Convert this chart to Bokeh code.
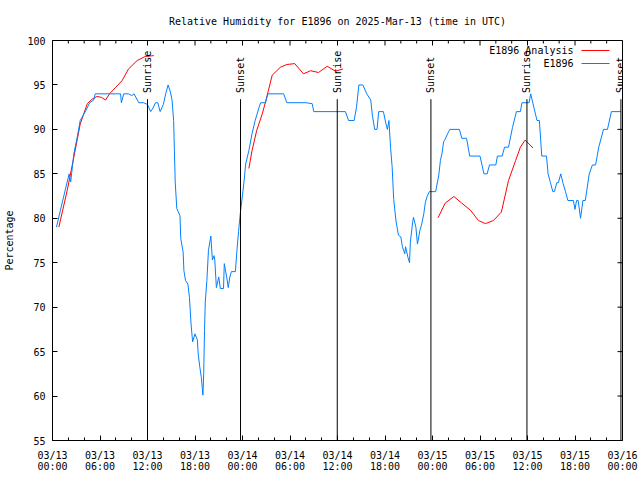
import math
from bokeh.plotting import figure
from bokeh.models import FixedTicker, Label, BoxAnnotation, Range1d, ColumnDataSource
from bokeh.embed import file_html
from bokeh.resources import INLINE
from bokeh.core.properties import value

FONT = "DejaVu Sans Mono"
NAN = float("nan")

# ---- data (hours since 2025-03-13 00:00 UTC, relative humidity %) ----
obs_hours = [0.5, 1.0, 1.4, 2.1, 2.3, 2.7, 3.1, 3.5, 4.2, 4.7, 5.2, 5.4, 6.0, 7.0, 8.0, 8.6, 8.7, 9.0,
             9.6, 10.0, 10.3, 10.9, 11.5, 12.0, 12.4, 12.7, 13.0, 13.3, 13.6, 14.0, 14.3, 14.6, 14.9,
             15.1, 15.3, 15.4, 15.5, 15.7, 16.1, 16.2, 16.5, 16.6, 16.8, 17.1, 17.3, 17.5, 17.7, 18.0,
             18.3, 18.4, 18.6, 18.8, 19.0, 19.1, 19.2, 19.3, 19.5, 19.7, 20.0, 20.2, 20.4, 20.5, 20.7,
             21.0, 21.2, 21.6, 21.7, 22.0, 22.2, 22.4, 22.6, 23.1, 23.3, 23.5, 23.75, 24.0, 24.2, 24.4,
             24.8, 25.2, 25.6, 26.1, 26.3, 26.9, 27.2, 29.2, 29.6, 32.0, 32.8, 33.0, 37.0, 37.4, 38.1,
             38.4, 38.7, 39.2, 39.7, 40.2, 40.4, 40.7, 41.0, 41.2, 41.8, 42.1, 42.3, 42.5, 42.7, 42.9,
             43.1, 43.4, 43.7, 44.0, 44.2, 44.5, 44.6, 44.9, 45.1, 45.2, 45.5, 45.6, 45.9, 46.1, 46.4,
             46.6, 46.9, 47.1, 47.3, 47.6, 48.4, 48.8, 49.0, 49.2, 49.4, 49.6, 49.9, 50.2, 51.4, 51.7,
             52.3, 52.7, 54.0, 54.5, 54.9, 55.2, 56.0, 56.2, 56.8, 57.1, 57.6, 58.1, 58.6, 59.1, 59.3,
             60.2, 60.4, 60.8, 61.2, 61.5, 61.8, 62.4, 62.6, 62.9, 63.2, 63.4, 63.7, 63.9, 64.2, 64.5,
             64.8, 65.1, 65.8, 66.0, 66.2, 66.4, 66.7, 67.0, 67.3, 67.8, 68.2, 68.6, 69.0, 69.6, 70.1,
             70.6, 71.8]
obs_rh = [79.0, 80.9, 82.4, 85.0, 84.1, 87.3, 89.0, 91.0, 92.1, 93.0, 93.3, 94.0, 94.0, 94.0, 94.0, 94.0, 93.0, 94.0,
          94.0, 93.8, 94.0, 93.0, 93.0, 92.8, 92.0, 92.4, 93.0, 93.0, 92.0, 92.8, 94.0, 95.0, 94.2,
          93.3, 91.0, 87.6, 84.1, 81.1, 80.3, 77.7, 76.2, 74.1, 73.0, 72.6, 71.1, 68.1, 66.1, 67.0,
          66.3, 64.8, 63.3, 62.1, 60.1, 62.5, 67.4, 70.6, 73.0, 76.4, 78.0, 75.3, 75.8, 75.3, 72.2,
          73.4, 72.1, 72.1, 74.9, 73.4, 72.2, 73.4, 74.0, 74.0, 76.4, 78.5, 80.8, 82.6, 84.2, 86.1,
          87.6, 89.5, 91.0, 92.5, 93.0, 93.0, 94.0, 94.0, 93.0, 93.0, 92.9, 92.0, 92.0, 91.0, 91.0,
          92.5, 95.0, 95.0, 94.0, 93.3, 91.6, 90.0, 90.0, 92.0, 92.0, 90.7, 90.0, 91.0, 88.0, 85.8,
          82.1, 79.6, 78.1, 77.9, 76.8, 76.0, 76.8, 75.6, 75.0, 77.3, 79.6, 80.1, 79.0, 77.1, 78.6,
          79.2, 80.5, 81.8, 82.4, 83.0, 83.0, 84.9, 86.5, 87.3, 88.6, 88.9, 89.5, 90.0, 90.0, 89.0,
          89.0, 87.0, 87.0, 85.0, 85.0, 86.0, 86.0, 87.0, 87.0, 88.0, 88.0, 90.2, 92.0, 92.0, 93.0,
          93.0, 94.0, 92.5, 91.0, 91.0, 87.0, 87.0, 85.0, 84.0, 83.0, 83.0, 84.0, 84.0, 85.0, 83.9,
          83.0, 82.0, 82.0, 81.0, 82.0, 82.0, 80.0, 82.0, 82.0, 85.0, 86.0, 86.0, 88.0, 90.0, 90.0,
          92.0, 92.0]

ana_hours = [0.8, 1.85, 2.7, 3.5, 4.4, 5.0, 5.6, 6.2, 6.7, 7.2, 8.0, 8.8, 9.6, 10.7, 11.7, 12.8, NAN,
             24.8, 25.2, 25.8, 26.5, 27.0, 27.75, 28.8, 29.6, 30.6, 31.7, 32.6, 33.6, 34.7, 35.75, 36.7, NAN,
             48.7, 49.6, 50.7, 51.7, 52.8, 53.8, 54.7, 55.7, 56.7, 57.6, 58.5, 59.1, 59.7, 60.7]
ana_rh = [79.0, 83.1, 86.9, 90.6, 92.9, 93.4, 93.7, 93.6, 93.3, 94.0, 94.75, 95.5, 96.8, 97.75, 98.2, 98.3, NAN,
          85.6, 87.6, 89.9, 91.75, 93.4, 96.1, 97.0, 97.3, 97.4, 96.25, 96.6, 96.4, 97.1, 96.55, 96.8, NAN,
          80.05, 81.7, 82.45, 81.7, 80.9, 79.75, 79.4, 79.75, 80.7, 84.25, 86.5, 88.0, 88.8, 87.9]

event_hours = [12.0, 23.75, 35.97, 47.8, 59.93, 71.8]
event_names = ["Sunrise", "Sunset", "Sunrise", "Sunset", "Sunrise", "Sunset"]

x_tick_hours = [0, 6, 12, 18, 24, 30, 36, 42, 48, 54, 60, 66, 72]
x_tick_labels = ["03/13\n00:00", "03/13\n06:00", "03/13\n12:00", "03/13\n18:00",
                 "03/14\n00:00", "03/14\n06:00", "03/14\n12:00", "03/14\n18:00",
                 "03/15\n00:00", "03/15\n06:00", "03/15\n12:00", "03/15\n18:00",
                 "03/16\n00:00"]
x_minor_hours = [h for h in range(0, 73, 2) if h % 6 != 0]
y_ticks = [55, 60, 65, 70, 75, 80, 85, 90, 95, 100]

title_text = "Relative Humidity for E1896 on 2025-Mar-13 (time in UTC)"
series_names = ["E1896 Analysis", "E1896"]
series_colors = ["#ff0000", "#0080ff"]

X0, X1 = 0, 72
Y0, Y1 = 55, 100

p = figure(width=640, height=480, x_range=Range1d(X0, X1), y_range=Range1d(Y0, Y1),
           output_backend="svg", toolbar_location=None, title=title_text,
           min_border_left=52, min_border_right=18, min_border_top=40, min_border_bottom=40)

p.title.text_font = FONT
p.title.text_font_size = "10px"
p.title.text_font_style = "normal"
p.title.text_color = "black"
p.title.align = "center"
p.title.vertical_align = "top"
p.title.standoff = 24

p.xgrid.visible = False
p.ygrid.visible = False
p.outline_line_color = "black"
p.outline_line_alpha = 1.0
p.outline_line_width = 1
p.background_fill_color = "white"
p.border_fill_color = "white"


def style_axis(ax):
    ax.axis_line_color = None
    ax.major_tick_in = 5
    ax.major_tick_out = 0
    ax.minor_tick_in = 3
    ax.minor_tick_out = 0
    ax.major_tick_line_color = "black"
    ax.minor_tick_line_color = "black"
    ax.major_label_text_font = FONT
    ax.major_label_text_color = "black"
    ax.major_label_text_font_size = "10px"


xb = p.xaxis[0]
xb.ticker = FixedTicker(ticks=x_tick_hours, minor_ticks=x_minor_hours)
xb.major_label_overrides = {h: lbl for h, lbl in zip(x_tick_hours, x_tick_labels)}
style_axis(xb)
xb.major_label_text_line_height = 1.0
xb.major_label_standoff = 9

yl = p.yaxis[0]
yl.ticker = FixedTicker(ticks=y_ticks, minor_ticks=[])
style_axis(yl)
yl.major_label_standoff = 7
yl.axis_label = "Percentage"
yl.axis_label_text_font = FONT
yl.axis_label_text_font_size = "10px"
yl.axis_label_text_font_style = "normal"
yl.axis_label_text_color = "black"
yl.axis_label_standoff = 9

# mirrored inward ticks on top and right borders (half of each dash is clipped by the frame)
p.scatter(x=x_tick_hours, y=[Y1] * len(x_tick_hours), marker="dash", size=10, angle=math.pi / 2,
          line_color="black", line_width=1)
p.scatter(x=x_minor_hours, y=[Y1] * len(x_minor_hours), marker="dash", size=6, angle=math.pi / 2,
          line_color="black", line_width=1)
p.scatter(x=[X1] * len(y_ticks), y=y_ticks, marker="dash", size=10,
          line_color="black", line_width=1)

# data lines
p.line(ana_hours, ana_rh, line_color=series_colors[0], line_width=1)
p.line(obs_hours, obs_rh, line_color=series_colors[1], line_width=1)

# sunrise / sunset markers
ev = ColumnDataSource(dict(x=event_hours, name=event_names))
p.segment(x0="x", y0=Y0, x1="x", y1=93.4, source=ev, line_color="black", line_width=1)
p.text(x="x", y=94.1, text="name", source=ev, angle=math.pi / 2,
       text_font=value(FONT), text_font_size="10px", text_align="left",
       text_baseline="middle", text_color="black")

# legend (text left, sample line right, gnuplot style)
for i, (name, col) in enumerate(zip(series_names, series_colors)):
    yy = 390 - 13 * i
    p.add_layout(Label(x=521, y=yy, x_units="screen", y_units="screen", text=name,
                       text_align="right", text_baseline="middle", text_font=FONT,
                       text_font_size="10px", text_color="black"))
    p.add_layout(BoxAnnotation(left=529, right=557, bottom=yy - 0.5, top=yy + 0.5,
                               left_units="screen", right_units="screen",
                               bottom_units="screen", top_units="screen",
                               fill_color=col, fill_alpha=1.0, line_color=None))

open("out.html", "w").write(file_html(p, INLINE))
